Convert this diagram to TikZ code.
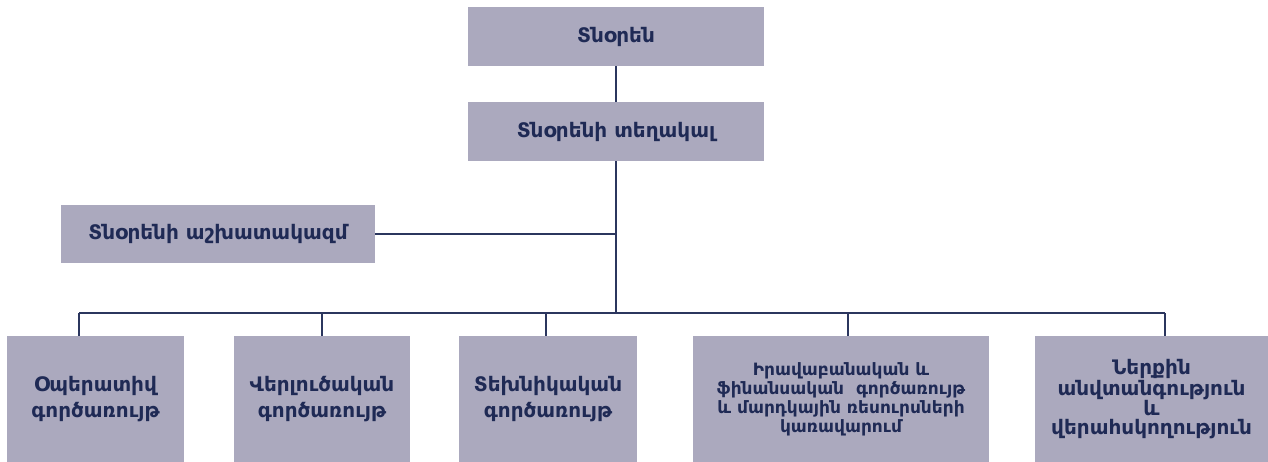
\documentclass[tikz,border=0pt]{standalone}
\usepackage{fontspec}
\setmainfont{DejaVu Sans}
\definecolor{boxfill}{HTML}{ABA9BE}
\definecolor{ink}{HTML}{1F2A55}
\definecolor{wire}{HTML}{2B365E}

\begin{document}
\begin{tikzpicture}[x=1pt, y=-1pt,
    unit/.style={fill=boxfill, text=ink, align=center, inner sep=0pt,
        font=\bfseries\fontsize{20}{24}\selectfont},
    wide/.style={unit, minimum width=#1},
    tall/.style={minimum height=126, font=\bfseries\fontsize{20}{#1}\selectfont},
    link/.style={draw=wire, line width=1.6}]
\useasboundingbox (0,0) rectangle (1268,462);

% top of the chart
\node[wide=296, minimum height=59] (dir) at (616,36.5) {Տնօրեն};
\node[wide=296, minimum height=59] (dep) at (616,131.5) {Տնօրենի տեղակալ};
\node[wide=314, minimum height=58] (staff) at (218,234) {Տնօրենի աշխատակազմ};

% departments
\node[wide=177, tall=26] (ops) at (95.5,399) {Օպերատիվ\\գործառույթ};
\node[wide=176, tall=26] (anl) at (322,399) {Վերլուծական\\գործառույթ};
\node[wide=178, tall=26] (tec) at (548,399) {Տեխնիկական\\գործառույթ};
\node[wide=296, tall=19, font=\bfseries\fontsize{17}{19}\selectfont] (law) at (841,399)
    {Իրավաբանական և\\ֆինանսական~ գործառույթ\\և մարդկային ռեսուրսների\\կառավարում};
\node[wide=233, tall=18.6] (sec) at (1151.5,399) {Ներքին\\անվտանգություն\\և\\վերահսկողություն};

\coordinate (bus) at (616,313);
\coordinate (d1) at (79,313);
\coordinate (d2) at (322,313);
\coordinate (d3) at (546,313);
\coordinate (d4) at (848,313);
\coordinate (d5) at (1165,313);

\draw[link] (dir.south) -- (dep.north);
\draw[link] (dep.south) -- (bus);
\draw[link] (staff.east) -- (staff.east -| bus);
\draw[link] (d1) -- (d5);
\foreach \d/\b in {d1/ops, d2/anl, d3/tec, d4/law, d5/sec}
    \draw[link] (\d) -- (\d |- \b.north);
\end{tikzpicture}
\end{document}
